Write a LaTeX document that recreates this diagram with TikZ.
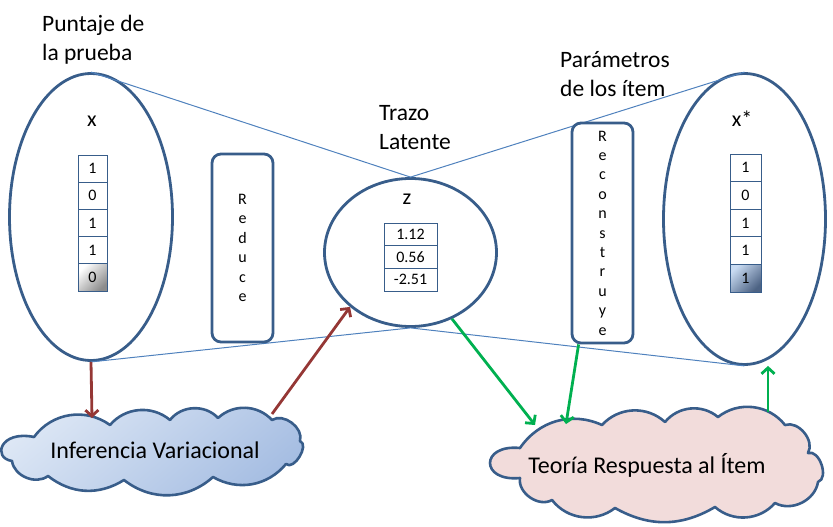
\documentclass[tikz,border=0pt]{standalone}
\usepackage{fontspec}
\setmainfont{Carlito}
\usetikzlibrary{shapes.geometric,arrows.meta}
\definecolor{outl}{HTML}{385D8A}
\definecolor{thinb}{HTML}{4F81BD}
\definecolor{dred}{HTML}{953735}
\definecolor{grn}{HTML}{00B050}
\definecolor{ivtop}{HTML}{DDE7F5}
\definecolor{ivbot}{HTML}{A5BDE2}
\definecolor{pinkf}{HTML}{F2DCDB}
\definecolor{cellblue}{HTML}{C9DBF2}
\definecolor{cellslate}{HTML}{4D6384}
\newcommand{\letterstack}[1]{\vbox{\baselineskip=19.4pt\lineskiplimit=-100pt\halign{\hfil##\hfil\cr#1\crcr}}}
\newcommand{\titlestack}[1]{\vtop{\baselineskip=28.5pt\lineskiplimit=-100pt\halign{##\hfil\cr#1\crcr}}}
\begin{document}
\begin{tikzpicture}[x=1pt,y=-1pt,
  oval/.style={ellipse, draw=outl, line width=2.8pt, inner sep=0pt},
  cellbox/.style={rectangle, draw=outl, line width=0.9pt, inner sep=0pt, font=\fontsize{16}{19}\selectfont},
  lcell/.style={cellbox, minimum width=29pt, minimum height=27.2pt},
  rcell/.style={cellbox, minimum width=31pt, minimum height=27.6pt},
  zcell/.style={cellbox, minimum width=53pt, minimum height=22.67pt},
  vbox/.style={rectangle, rounded corners=9pt, draw=outl, line width=2.8pt, minimum width=61pt, inner sep=0pt, font=\fontsize{16}{19.4}\selectfont},
  title/.style={anchor=base west, inner sep=0pt, font=\fontsize{23.5}{28}\selectfont},
  varlbl/.style={anchor=base, inner sep=0pt, font=\fontsize{22}{26}\selectfont},
  cloudline/.style={draw=outl, line width=2.6pt, line join=round},
  cloudtxt/.style={anchor=base, inner sep=0pt, font=\fontsize{24}{28}\selectfont},
  thinline/.style={draw=thinb, line width=1pt},
  redarr/.style={draw=dred, line width=2.8pt, -{Straight Barb[length=6pt,width=13pt]}},
  grnarr/.style={draw=grn, line width=2.8pt, -{Straight Barb[length=6pt,width=13pt]}}
]
\useasboundingbox (0,0) rectangle (833,527);

% clouds
\path[cloudline, top color=ivtop, bottom color=ivbot, shading angle=40]
  (34,437) to[bend left=45] (110,425) to[bend left=45] (170,420)
  to[bend left=50] (218,418) to[bend left=45] (272,420)
  to[bend left=70] (300,441) to[bend left=100] (286,464)
  to[bend left=40] (213,477) to[bend left=40] (124,480)
  to[bend left=35] (48,476) to[bend left=60] (12,461)
  .. controls (-8,458) and (0,430) .. (34,437) -- cycle;
\node[cloudtxt] (IVt) at (155,458) {Inferencia Variacional};

\path[cloudline, fill=pinkf]
  (520,448) to[bend left=40] (602,425) to[bend left=45] (665,422)
  to[bend left=45] (718,417) to[bend left=45] (785,425)
  to[bend left=70] (808,453) to[bend left=90] (818,482)
  to[bend left=55] (775,503) to[bend left=45] (715,507)
  to[bend left=30] (615,508) to[bend left=45] (552,500)
  to[bend left=65] (520,478)
  .. controls (480,482) and (480,444) .. (520,448) -- cycle;
\node[cloudtxt] (TRIt) at (647,473) {Teoría Respuesta al Ítem};

% ellipses
\node[oval, minimum width=163pt, minimum height=287pt] (L) at (91,217) {};
\node[oval, minimum width=172pt, minimum height=148pt] (M) at (410.5,252.5) {};
\node[oval, minimum width=162pt, minimum height=291pt] (R) at (744.5,219) {};

% thin lines
\draw[thinline] (L.north) -- (M.north) -- (R.north);
\draw[thinline] (L.south) -- (M.south) -- (R.south);

% titles
\node[title] (t1) at (42,32) {\titlestack{Puntaje de\cr la prueba}};
\node[title] (t2) at (379,121) {\titlestack{Trazo\cr Latente}};
\node[title] (t3) at (560,68) {\titlestack{Parámetros\cr de los ítem}};

% variable labels
\node[varlbl] (xl) at (92,126) {x};
\node[varlbl] (zl) at (407,204) {z};
\node[varlbl] (xs) at (742,126) {x*};

% left table
\node[lcell] (a1) at (92.5,168.6) {1};
\node[lcell] (a2) at (92.5,195.8) {0};
\node[lcell] (a3) at (92.5,223.0) {1};
\node[lcell] (a4) at (92.5,250.2) {1};
\node[lcell, top color=white, bottom color=black!45, shading angle=45] (a5) at (92.5,277.4) {0};

% z table
\node[zcell] (z1) at (410.5,234.3) {1.12};
\node[zcell] (z2) at (410.5,257.0) {0.56};
\node[zcell] (z3) at (410.5,279.7) {-2.51};

% right table
\node[rcell] (b1) at (745.5,167.8) {1};
\node[rcell] (b2) at (745.5,195.4) {0};
\node[rcell] (b3) at (745.5,223.0) {1};
\node[rcell] (b4) at (745.5,250.6) {1};
\node[rcell, top color=cellblue, bottom color=cellslate, shading angle=45] (b5) at (745.5,278.2) {1};

% vertical boxes
\node[vbox, minimum height=188pt] (RD) at (242.5,248) {\letterstack{R\cr e\cr d\cr u\cr c\cr e}};
\node[vbox, minimum height=220pt] (RC) at (602.5,233) {\letterstack{R\cr e\cr c\cr o\cr n\cr s\cr t\cr r\cr u\cr y\cr e}};

% cloud attachment points
\coordinate (ivIn) at (92,418);
\coordinate (ivOut) at (272,414);
\coordinate (triInA) at (535,425);
\coordinate (triInB) at (566,424);
\coordinate (triOut) at (768,412);

% arrows
\draw[redarr] (L.south) -- (ivIn);
\draw[redarr] (ivOut) -- (M.222);
\draw[grnarr] (M.-58) -- (triInA);
\draw[grnarr] ([xshift=8pt]RC.south west) -- (triInB);
\draw[grnarr] (triOut) -- (triOut |- R.south);
\end{tikzpicture}
\end{document}
